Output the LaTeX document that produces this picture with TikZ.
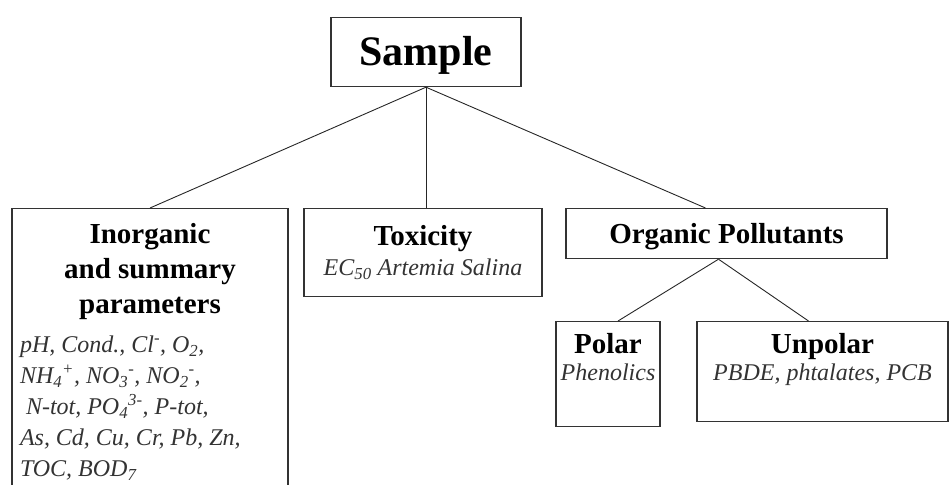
\documentclass[tikz,border=0pt]{standalone}
\usepackage{fontspec}
\setmainfont{Liberation Serif}
\newcommand{\topgap}[1]{\rule{0pt}{#1pt}}
\newcommand{\botgap}[1]{\rule[-#1pt]{0pt}{#1pt}}
\newcommand{\bodytext}{\mdseries\itshape\fontsize{24}{31}\selectfont\color{black!80}}

\begin{document}
\begin{tikzpicture}[x=1pt, y=-1pt,
box/.style={draw=black!80, line width=1.2pt, fill=white, anchor=north, inner xsep=0pt, inner ysep=0pt, align=center},
head/.style={font=\fontsize{29}{30}\selectfont\bfseries},
link/.style={draw=black!85, line width=0.9pt}
]
\useasboundingbox (0,0) rectangle (949,484);
\node[box, minimum width=190pt, font=\fontsize{42}{42}\selectfont\bfseries] (sample) at (426,17) {\topgap{48}Sample\botgap{21}};
\node[box, minimum width=276pt, inner xsep=8pt, text width=260pt, align=left] (inorg) at (150,208) {%
\spaceskip=0pt\xspaceskip=0pt
{\centering\fontsize{29}{35}\selectfont\bfseries\topgap{35}Inorganic\\and summary\\parameters\par}
\vspace{8pt}
{\raggedright\bodytext
pH, Cond., Cl\textsuperscript{-}, O\textsubscript{2},\\
NH\textsubscript{4}\textsuperscript{+}, NO\textsubscript{3}\textsuperscript{-}, NO\textsubscript{2}\textsuperscript{-},\\
\hspace*{6pt}N-tot, PO\textsubscript{4}\textsuperscript{3-}, P-tot,\\
As, Cd, Cu, Cr, Pb, Zn,\\
TOC, BOD\textsubscript{7}\botgap{23}\par}};
\node[box, head, minimum width=238pt] (tox) at (423,208) {\topgap{37}Toxicity\\{\bodytext EC\textsubscript{50} Artemia Salina}\botgap{21}};
\node[box, head, minimum width=321pt] (organic) at (726.5,208) {\topgap{35}Organic Pollutants\botgap{15}};
\node[box, head, minimum width=104pt, font=\fontsize{29}{27}\selectfont\bfseries] (polar) at (608,321) {\topgap{32}Polar\\{\bodytext Phenolics}\botgap{46}};
\node[box, head, minimum width=251pt, font=\fontsize{29}{27}\selectfont\bfseries] (unpolar) at (822.5,321) {\topgap{32}Unpolar\\{\bodytext PBDE, phtalates, PCB}\botgap{41}};
% connectors
\draw[link] (sample.south) -- (inorg.north);
\draw[link] (sample.south) -- (sample.south |- tox.north);
\draw[link] (sample.south) -- ([xshift=-21pt]organic.north);
\draw[link] ([xshift=-8pt]organic.south) -- ([xshift=10pt]polar.north);
\draw[link] ([xshift=-8pt]organic.south) -- ([xshift=-14pt]unpolar.north);
\end{tikzpicture}
\end{document}
